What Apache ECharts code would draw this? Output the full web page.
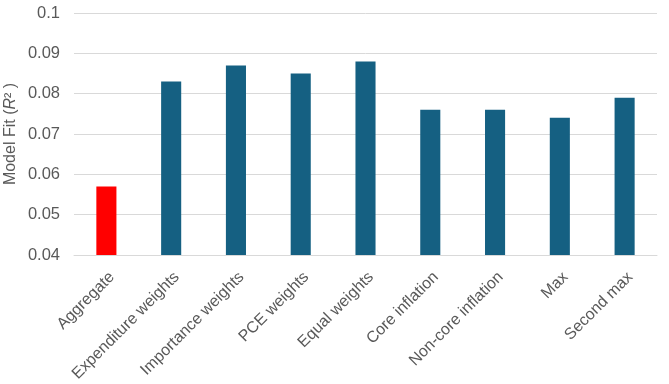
<!DOCTYPE html>
<html>
<head>
<meta charset="utf-8">
<script src="https://cdn.jsdelivr.net/npm/echarts@6/dist/echarts.min.js"></script>
<style>html,body{margin:0;padding:0;background:#fff}#c{width:669px;height:384px}</style>
</head>
<body>
<div id="c"></div>
<script>
const categories = ['Aggregate','Expenditure weights','Importance weights','PCE weights','Equal weights','Core inflation','Non-core inflation','Max','Second max'];
const values = [0.057, 0.083, 0.087, 0.085, 0.088, 0.076, 0.076, 0.074, 0.079];
const barColors = ['#FF0000','#156082','#156082','#156082','#156082','#156082','#156082','#156082','#156082'];
const yMin = 0.04, yMax = 0.1, yStep = 0.01;

const chart = echarts.init(document.getElementById('c'));
const font = 'Liberation Sans, Arial, sans-serif';
chart.setOption({
  animation: false,
  grid: { left: 74, right: 12, top: 13, bottom: 129, containLabel: false, outerBoundsMode: 'none' },
  xAxis: {
    type: 'category',
    data: categories,
    axisLine: { lineStyle: { color: '#d9d9d9', width: 1 } },
    axisTick: { show: false },
    axisLabel: { rotate: 45, color: '#595959', fontSize: 16, fontFamily: font, margin: 14,
      interval: 0, align: 'right', verticalAlign: 'top' }
  },
  yAxis: {
    type: 'value',
    min: yMin, max: yMax, interval: yStep,
    axisLabel: { color: '#595959', fontSize: 16.5, fontFamily: font, margin: 14,
      formatter: v => String(parseFloat(v.toFixed(3))) },
    splitLine: { lineStyle: { color: '#d9d9d9', width: 1 } },
    axisLine: { show: false },
    axisTick: { show: false },
    name: '{n|Model Fit (}{i|R}{n|² )}',
    nameLocation: 'middle',
    nameRotate: 90,
    nameGap: 55,
    nameMoveOverlap: false,
    nameTextStyle: {
      rich: {
        n: { color: '#595959', fontSize: 16, fontFamily: font },
        i: { color: '#595959', fontSize: 16, fontFamily: font, fontStyle: 'italic' }
      }
    }
  },
  series: [{
    type: 'bar',
    data: values.map((v, i) => ({ value: v, itemStyle: { color: barColors[i] } })),
    barWidth: '31%'
  }]
});
</script>
</body>
</html>
